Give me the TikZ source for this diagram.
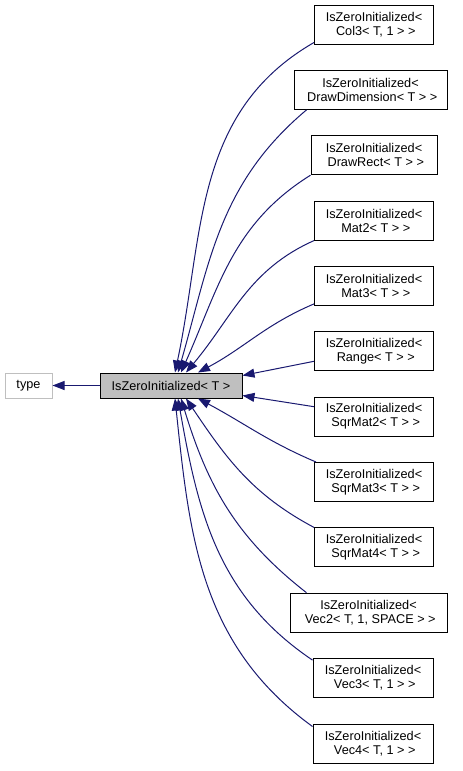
\documentclass[tikz,border=0pt]{standalone}
\usepackage{fontspec}
\setmainfont{Liberation Sans}
\usetikzlibrary{arrows.meta}
\definecolor{edgeblue}{HTML}{191970}
\definecolor{boxgrey}{HTML}{BFBFBF}
\begin{document}
\begin{tikzpicture}[x=1pt,y=1pt,
  box/.style={draw=black,line width=1pt,fill=white,minimum height=39pt,inner sep=0pt,align=center,font=\fontsize{12.7}{14}\selectfont},
  inherit/.style={draw=edgeblue,line width=1pt,-{Triangle[length=12pt,width=9pt]}}]
\useasboundingbox (0,0) rectangle (463,-771);
\node[box,minimum height=25pt,minimum width=47pt,draw=boxgrey] (type) at (28.5,-385.5) {type};
\node[box,minimum height=25pt,minimum width=142pt,fill=boxgrey] (main) at (171,-385.5) {IsZeroInitialized< T >};
\node[box,minimum width=119pt] (col3) at (374,-24.5) {IsZeroInitialized<\\\mbox{} Col3< T, 1 > >};
\node[box,minimum width=153pt] (dd) at (370.5,-89.9) {IsZeroInitialized<\\\mbox{} DrawDimension< T > >};
\node[box,minimum width=126pt] (dr) at (374,-155.2) {IsZeroInitialized<\\\mbox{} DrawRect< T > >};
\node[box,minimum width=119pt] (mat2) at (374,-220.6) {IsZeroInitialized<\\\mbox{} Mat2< T > >};
\node[box,minimum width=119pt] (mat3) at (374,-285.9) {IsZeroInitialized<\\\mbox{} Mat3< T > >};
\node[box,minimum width=119pt] (range) at (374,-351.3) {IsZeroInitialized<\\\mbox{} Range< T > >};
\node[box,minimum width=119pt] (sqrmat2) at (374,-416.7) {IsZeroInitialized<\\\mbox{} SqrMat2< T > >};
\node[box,minimum width=119pt] (sqrmat3) at (374,-482) {IsZeroInitialized<\\\mbox{} SqrMat3< T > >};
\node[box,minimum width=119pt] (sqrmat4) at (374,-547.4) {IsZeroInitialized<\\\mbox{} SqrMat4< T > >};
\node[box,minimum width=157pt] (vec2) at (368.5,-612.7) {IsZeroInitialized<\\\mbox{} Vec2< T, 1, SPACE > >};
\node[box,minimum width=120pt] (vec3) at (373,-678.1) {IsZeroInitialized<\\\mbox{} Vec3< T, 1 > >};
\node[box,minimum width=120pt] (vec4) at (373,-743.5) {IsZeroInitialized<\\\mbox{} Vec4< T, 1 > >};
% base class
\draw[inherit] (main.west) -- (type.east);
% derived classes, upper half
\draw[inherit] ([yshift=2pt]col3.south west) to[out=210,in=78] ([xshift=4pt]main.north);
\draw[inherit] ([xshift=13pt]dd.south west) to[out=220,in=74] ([xshift=7pt]main.north);
\draw[inherit] (dr.south west) to[out=212,in=66] ([xshift=10pt]main.north);
\draw[inherit] (mat2.south west) to[out=204,in=50] ([xshift=15pt]main.north);
\draw[inherit] ([yshift=2pt]mat3.south west) to[out=203,in=28] ([xshift=27pt]main.north);
\draw[inherit] ([yshift=-10pt]range.west) -- ([yshift=-3pt]main.north east);
% derived classes, lower half
\draw[inherit] ([yshift=10pt]sqrmat2.west) -- ([yshift=3pt]main.south east);
\draw[inherit] ([xshift=2pt]sqrmat3.north west) to[out=157,in=-28] ([xshift=27pt]main.south);
\draw[inherit] (sqrmat4.north west) to[out=152,in=-56] ([xshift=15pt]main.south);
\draw[inherit] ([xshift=17pt]vec2.north west) to[out=142,in=-73] ([xshift=10pt]main.south);
\draw[inherit] ([yshift=-2pt]vec3.north west) to[out=146,in=-80] ([xshift=7pt]main.south);
\draw[inherit] ([yshift=-3pt]vec4.north west) to[out=144,in=-84] ([xshift=4pt]main.south);
\end{tikzpicture}
\end{document}
